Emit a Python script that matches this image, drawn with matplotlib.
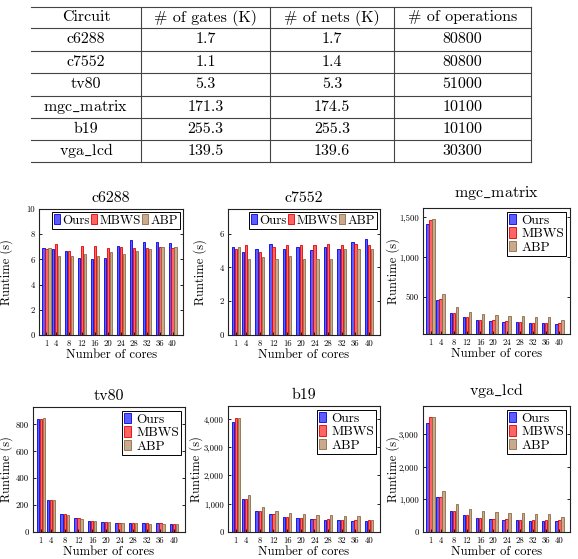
import numpy as np
import matplotlib
matplotlib.use("Agg")
import matplotlib.pyplot as plt
from matplotlib.lines import Line2D
from matplotlib.ticker import FuncFormatter

plt.rcParams['font.family'] = ['cmr10', 'DejaVu Serif']
plt.rcParams['mathtext.fontset'] = 'cm'
plt.rcParams['axes.formatter.use_mathtext'] = True

# table data
tab_header = ["Circuit", "# of gates (K)", "# of nets (K)", "# of operations"]
circuits = ["c6288", "c7552", "tv80", "mgc_matrix", "b19", "vga_lcd"]
gates = ["1.7", "1.1", "5.3", "171.3", "255.3", "139.5"]
nets = ["1.7", "1.4", "5.3", "174.5", "255.3", "139.6"]
operations = ["80800", "80800", "51000", "10100", "10100", "30300"]

# runtime data (s)
cores = [1, 4, 8, 12, 16, 20, 24, 28, 32, 36, 40]

c6288_ours = [6.9, 6.8, 6.7, 6.1, 6.0, 6.1, 7.1, 7.5, 7.4, 7.4, 7.3]
c6288_mbws = [6.8, 7.2, 6.7, 7.1, 7.1, 6.9, 7.0, 6.9, 6.9, 7.0, 6.9]
c6288_abp = [6.9, 6.3, 6.3, 6.4, 6.3, 6.6, 6.4, 6.7, 6.8, 7.0, 7.0]

c7552_ours = [5.2, 4.9, 5.1, 5.4, 5.1, 5.2, 5.0, 5.2, 5.1, 5.5, 5.7]
c7552_mbws = [5.1, 5.3, 4.9, 5.2, 5.3, 5.3, 5.3, 5.4, 5.3, 5.4, 5.3]
c7552_abp = [5.2, 4.5, 4.6, 4.5, 4.7, 4.5, 4.5, 4.5, 5.1, 5.1, 5.1]

mgc_ours = [1410, 455, 290, 240, 210, 195, 185, 175, 170, 165, 160]
mgc_mbws = [1470, 470, 290, 245, 210, 200, 190, 180, 170, 170, 170]
mgc_abp = [1480, 535, 370, 310, 285, 270, 260, 255, 250, 250, 205]

tv80_ours = [840, 240, 135, 105, 85, 75, 70, 68, 65, 65, 63]
tv80_mbws = [840, 240, 135, 103, 85, 75, 70, 67, 65, 65, 63]
tv80_abp = [850, 235, 130, 100, 80, 72, 68, 65, 62, 60, 58]

b19_ours = [3900, 1180, 760, 620, 530, 490, 460, 430, 420, 400, 380]
b19_mbws = [4030, 1180, 760, 620, 540, 490, 460, 450, 420, 410, 410]
b19_abp = [4050, 1300, 900, 740, 690, 630, 610, 590, 570, 560, 440]

vga_ours = [3350, 1060, 650, 520, 440, 410, 380, 370, 350, 340, 330]
vga_mbws = [3530, 1090, 650, 520, 440, 410, 390, 370, 360, 360, 370]
vga_abp = [3540, 1250, 850, 710, 640, 610, 570, 570, 550, 550, 450]

W, H = 578, 559
fig = plt.figure(figsize=(W / 100, H / 100), dpi=100)


def fx(px):
    return px / W


def fy(py):
    return 1 - py / H


def tex(s):
    # cmr10 hat kein echtes "_", daher mathtext
    return s.replace("_", r"$\_$")


############################################ Tabelle
col_edges = [31, 141, 270, 394, 531]
row_edges = [7, 28, 51, 73, 96, 118, 140, 162]

for y in row_edges:
    fig.add_artist(Line2D([fx(col_edges[0]), fx(col_edges[-1])], [fy(y), fy(y)],
                          color='#444444', lw=0.8))
for x in col_edges[1:]:
    fig.add_artist(Line2D([fx(x), fx(x)], [fy(row_edges[0]), fy(row_edges[-1])],
                          color='#444444', lw=0.8))

rows = [tab_header] + [[circuits[i], gates[i], nets[i], operations[i]] for i in range(len(circuits))]
for r, row in enumerate(rows):
    yc = (row_edges[r] + row_edges[r + 1]) / 2
    for c, txt in enumerate(row):
        xc = (col_edges[c] + col_edges[c + 1]) / 2
        fig.text(fx(xc), fy(yc), tex(txt), ha='center', va='center', fontsize=11.5)

############################################ Balkendiagramme
colors = [('#5c5cff', '#0000dd'), ('#ff6464', '#e00000'), ('#c9aa8a', '#8c6a48')]
names = ["Ours", "MBWS", "ABP"]


def fmt(v, pos):
    return "{:,.0f}".format(v)


def fmt_x(v, pos):
    return str(int(v))


# title, data, box (px), ylim, yticks, horizontal legend, ylabel offset (px), title pad
plots = [
    ("c6288", [c6288_ours, c6288_mbws, c6288_abp], (39, 183, 209, 335), (0, 10), [0, 2, 4, 6, 8, 10], True, 26, 5),
    ("c7552", [c7552_ours, c7552_mbws, c7552_abp], (228, 380, 209, 335), (0, 7.45), [0, 2, 4, 6], True, 21, 5),
    ("mgc_matrix", [mgc_ours, mgc_mbws, mgc_abp], (423, 570, 208, 334), (30, 1615), [500, 1000, 1500], False, 23, 8),
    ("tv80", [tv80_ours, tv80_mbws, tv80_abp], (33, 185, 407, 532), (0, 930), [0, 200, 400, 600, 800], False, 20, 5),
    ("b19", [b19_ours, b19_mbws, b19_abp], (228, 380, 406, 532), (0, 4460), [0, 1000, 2000, 3000, 4000], False, 25, 5),
    ("vga_lcd", [vga_ours, vga_mbws, vga_abp], (423, 570, 406, 532), (0, 3870), [0, 1000, 2000, 3000], False, 23, 8),
]

x = np.array(cores)
for title, series, box, ylim, yticks, horiz, yl_off, tpad in plots:
    x0, x1, y0, y1 = box
    ax = fig.add_axes([fx(x0), fy(y1), (x1 - x0) / W, (y1 - y0) / H])
    for k in range(3):
        ax.bar(x + (k - 1) * 0.9, series[k], width=0.72, color=colors[k][0],
               edgecolor=colors[k][1], linewidth=0.6, label=names[k])
    ax.set_xlim(-1.3, 43.2)
    ax.set_ylim(*ylim)
    ax.set_xticks(cores)
    ax.set_yticks(yticks)
    ax.xaxis.set_major_formatter(FuncFormatter(fmt_x))
    ax.yaxis.set_major_formatter(FuncFormatter(fmt))
    ax.tick_params(direction='in', length=2.5, width=0.6, labelsize=6.3,
                   right=True, top=False)
    ax.tick_params(axis='x', pad=3)
    ax.tick_params(axis='y', pad=3)
    for s in ax.spines.values():
        s.set_linewidth(0.8)
        s.set_color('#222222')
    ax.set_xlabel("Number of cores", fontsize=9.1)
    ax.xaxis.set_label_coords(0.5, -13.5 / (y1 - y0))
    ax.set_ylabel("Runtime (s)", fontsize=8.9)
    ax.yaxis.set_label_coords(-yl_off / (x1 - x0), 0.5)
    ax.set_title(tex(title), fontsize=11.5, pad=tpad)
    if horiz:
        leg = ax.legend(loc='upper right', ncol=3, fontsize=9.3, handlelength=0.5,
                        handleheight=0.8, handletextpad=0.15, columnspacing=0.1,
                        borderpad=0.15, borderaxespad=0.25, fancybox=False,
                        edgecolor='black', framealpha=1)
    else:
        leg = ax.legend(loc='upper right', ncol=1, fontsize=9.6, handlelength=0.5,
                        handleheight=0.8, handletextpad=0.4, labelspacing=0.05,
                        borderpad=0.15, borderaxespad=0.3, fancybox=False,
                        edgecolor='black', framealpha=1)
    leg.get_frame().set_linewidth(0.7)

fig.savefig("out.png", dpi=100)
